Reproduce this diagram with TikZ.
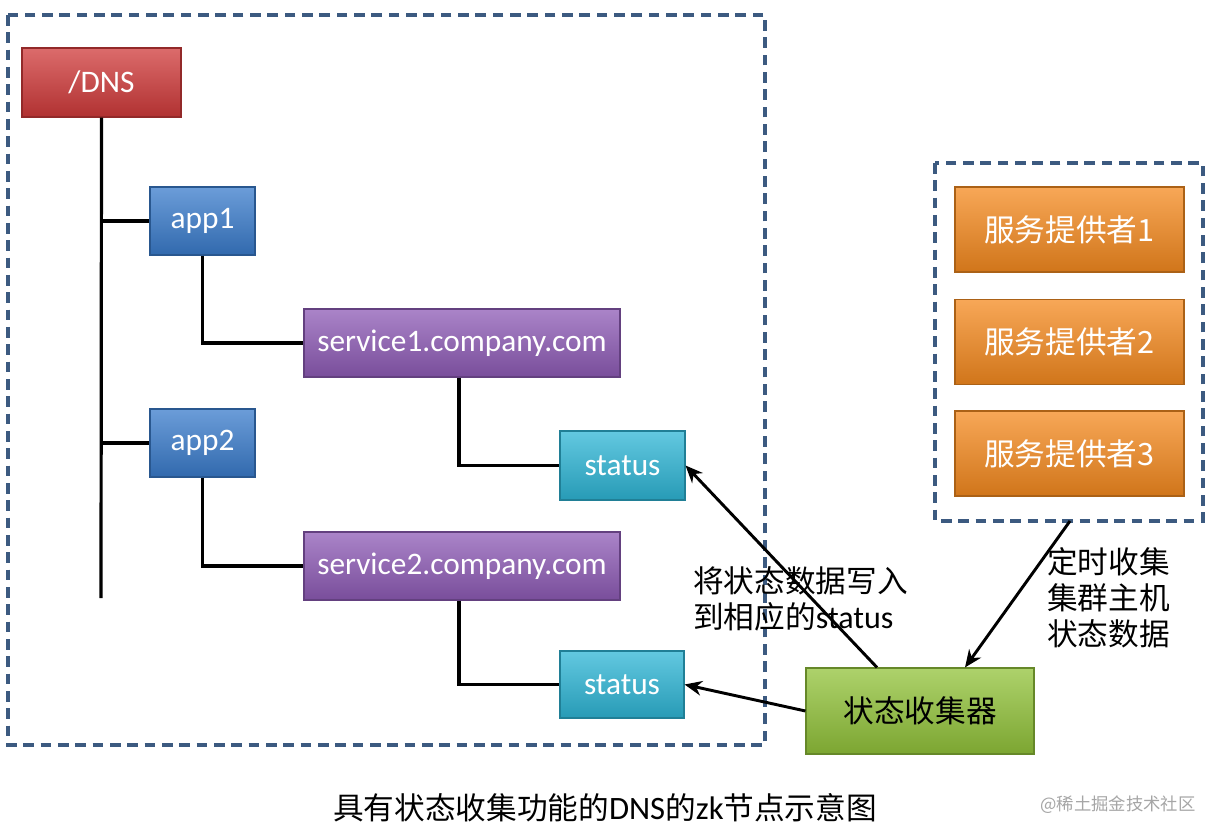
\documentclass[tikz,border=0pt]{standalone}
\usepackage{fontspec}
\usetikzlibrary{arrows.meta}
\setmainfont{Carlito}
\newfontfamily\cjk{Noto Sans CJK SC}
\begin{document}
\begin{tikzpicture}[x=0.75pt,y=-0.75pt,
  box/.style={draw=#1!70!black,line width=0.8pt,top color=#1!75!white,bottom color=#1!85!black,text=white,font=\fontsize{23.5}{26}\selectfont},
  dbox/.style={draw=frame,dash pattern=on 8pt off 5pt,line width=2.4pt},
  ln/.style={line width=2.4pt},
  arr/.style={line width=2.2pt,-{Stealth[length=13pt,width=11pt]}},
  lbl/.style={font=\cjk\fontsize{23}{27}\selectfont,align=left,anchor=north west,inner sep=0pt}]
\definecolor{frame}{HTML}{3C5A80}
\definecolor{cred}{HTML}{D03A3A}
\definecolor{cblue}{HTML}{3A7CCC}
\definecolor{cpurp}{HTML}{8E5BB6}
\definecolor{ccyan}{HTML}{2EB6D6}
\definecolor{corange}{HTML}{F58A1F}
\definecolor{cgreen}{HTML}{92C33A}
\useasboundingbox (0,0) rectangle (1222,838);
\fill[white] (0,0) rectangle (1222,838);
\draw[dbox] (8,15) rectangle (765,745);
\draw[dbox] (935,163) rectangle (1203,521);
\node[box=cred,minimum width=159*0.75pt,minimum height=69*0.75pt] (dns) at (101.5,82.5) {/DNS};
\node[box=cblue,minimum width=105*0.75pt,minimum height=68*0.75pt] (app1) at (202.5,221) {app1};
\node[box=cblue,minimum width=105*0.75pt,minimum height=68*0.75pt] (app2) at (202.5,443) {app2};
\node[box=cpurp,minimum width=316*0.75pt,minimum height=68*0.75pt] (s1) at (462,343) {service1.company.com};
\node[box=cpurp,minimum width=316*0.75pt,minimum height=68*0.75pt] (s2) at (462,566) {service2.company.com};
\node[box=ccyan,minimum width=125*0.75pt,minimum height=69*0.75pt] (st1) at (622.5,465.5) {status};
\node[box=ccyan,minimum width=124*0.75pt,minimum height=67*0.75pt] (st2) at (622,684.5) {status};
\foreach \y/\n in {229.5/1,342/2,453.5/3}
  \node[box=corange,minimum width=229*0.75pt,minimum height=85*0.75pt,font=\cjk\fontsize{23}{24}\selectfont] (p\n) at (1069.5,\y) {服务提供者\n};
\node[box=cgreen,text=black,minimum width=228*0.75pt,minimum height=86*0.75pt,font=\cjk\fontsize{23}{24}\selectfont] (col) at (920,711) {状态收集器};
\coordinate (vb) at (101,598);
\draw[ln] (dns.south) -- (vb);
\draw[ln] (101,221) -- (app1.west);
\draw[ln] (101,443) -- (app2.west);
\draw[ln] (app1.south) |- (s1.west);
\draw[ln] (app2.south) |- (s2.west);
\draw[ln] (s1.south -| 459,0) |- (st1.west);
\draw[ln] (s2.south -| 459,0) |- (st2.west);
\draw[arr] (col.north -| 877,0) -- (st1.east);
\draw[arr] (col.west) -- (st2.east);
\coordinate (rb) at (1070,521);
\draw[arr] (rb) -- (col.north -| 965,0);
\node[lbl] (l1) at (693,566) {将状态数据写入\\到相应的\textrm{\fontsize{24}{27}\selectfont status}};
\node[lbl] (l2) at (1047,547) {定时收集\\集群主机\\状态数据};
\node[font=\cjk\fontsize{23}{24}\selectfont] (cap) at (605,808) {具有状态收集功能的\textrm{\fontsize{24.5}{24}\selectfont DNS}的\textrm{\fontsize{24.5}{24}\selectfont zk}节点示意图};
\node[font=\cjk\fontsize{13}{14}\selectfont,text=gray!70] (wm) at (1118,805) {@稀土掘金技术社区};
\end{tikzpicture}
\end{document}
